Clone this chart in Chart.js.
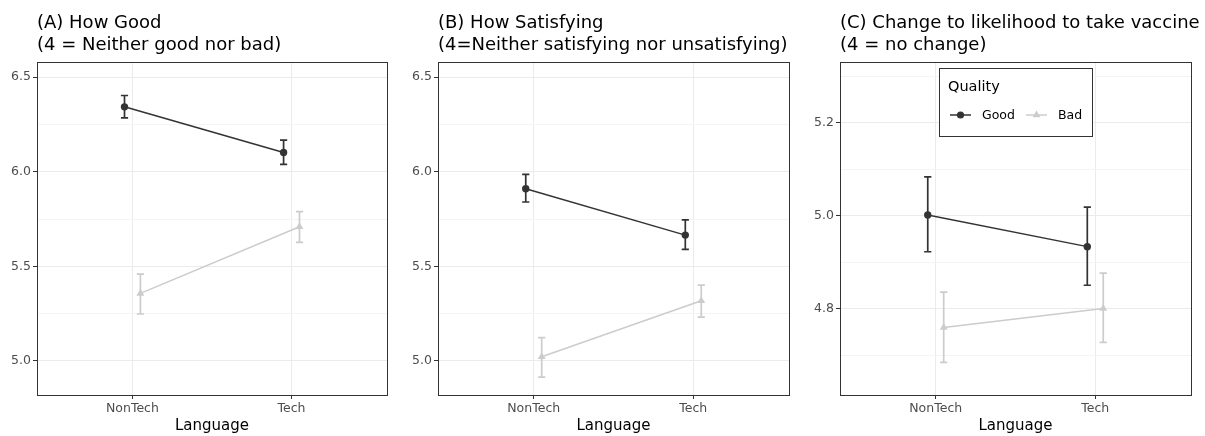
<!DOCTYPE html>
<html>
<head>
<meta charset="utf-8">
<script src="https://cdn.jsdelivr.net/npm/chart.js@4/dist/chart.umd.min.js"></script>
<style>
  html, body { margin: 0; padding: 0; background: #fff; }
  #wrap { position: relative; width: 1205px; height: 436px; overflow: hidden; }
  canvas { position: absolute; top: 0; }
</style>
</head>
<body>
<div id="wrap">
  <canvas id="panelA" width="400" height="436" style="left:0px"></canvas>
  <canvas id="panelB" width="400" height="436" style="left:400px"></canvas>
  <canvas id="panelC" width="405" height="436" style="left:800px"></canvas>
</div>
<script>
// categories on the x axis
const categories = ["NonTech", "Tech"];
const seriesNames = ["Good", "Bad"];

// (A) How Good
const aGoodMean = [6.343, 6.102];
const aGoodLow  = [6.285, 6.039];
const aGoodHigh = [6.403, 6.167];
const aBadMean  = [5.357, 5.709];
const aBadLow   = [5.248, 5.627];
const aBadHigh  = [5.459, 5.789];

// (B) How Satisfying
const bGoodMean = [5.910, 5.665];
const bGoodLow  = [5.840, 5.590];
const bGoodHigh = [5.986, 5.746];
const bBadMean  = [5.022, 5.318];
const bBadLow   = [4.914, 5.232];
const bBadHigh  = [5.123, 5.401];

// (C) Change to likelihood to take vaccine
const cGoodMean = [5.002, 4.934];
const cGoodLow  = [4.923, 4.851];
const cGoodHigh = [5.084, 5.019];
const cBadMean  = [4.760, 4.801];
const cBadLow   = [4.685, 4.728];
const cBadHigh  = [4.836, 4.877];

// y tick labels (major) and minor grid values
const abTicks = [5.0, 5.5, 6.0, 6.5];
const abMinor = [5.25, 5.75, 6.25];
const cTicks  = [4.8, 5.0, 5.2];
const cMinor  = [4.7, 4.9, 5.1, 5.3];

const DARK = "#333333";
const LIGHT = "#cccccc";
const DODGE = 0.05;

Chart.defaults.font.family = '"DejaVu Sans", sans-serif';

// error bars drawn from the dataset's low/high arrays
const errorBars = {
  id: "errorBars",
  beforeDatasetsDraw(chart) {
    const { ctx, scales: { x, y } } = chart;
    chart.data.datasets.forEach(ds => {
      ds.low.forEach((lo, i) => {
        const px = x.getPixelForValue(ds.data[i].x);
        const top = y.getPixelForValue(ds.high[i]);
        const bot = y.getPixelForValue(lo);
        ctx.save();
        ctx.strokeStyle = ds.borderColor;
        ctx.lineWidth = 1.7;
        ctx.beginPath();
        ctx.moveTo(px, top); ctx.lineTo(px, bot);
        ctx.moveTo(px - 3.6, top); ctx.lineTo(px + 3.6, top);
        ctx.moveTo(px - 3.6, bot); ctx.lineTo(px + 3.6, bot);
        ctx.stroke();
        ctx.restore();
      });
    });
  }
};

// panel border, title and (optional) legend
const frame = {
  id: "frame",
  afterDraw(chart, args, opts) {
    const { ctx, chartArea: a } = chart;
    ctx.save();
    ctx.strokeStyle = DARK;
    ctx.lineWidth = 1;
    ctx.strokeRect(Math.round(a.left) + 0.5, Math.round(a.top) + 0.5,
                   Math.round(a.right - a.left), Math.round(a.bottom - a.top));

    ctx.fillStyle = "#000";
    ctx.font = '18px "DejaVu Sans", sans-serif';
    ctx.textBaseline = "alphabetic";
    ctx.textAlign = "left";
    opts.title.forEach((line, i) => ctx.fillText(line, a.left, 28 + i * 22));

    if (opts.legend) {
      const lx = a.left + 99, ly = a.top + 6, lw = 153, lh = 68;
      ctx.fillStyle = "#fff";
      ctx.fillRect(lx, ly, lw, lh);
      ctx.strokeStyle = DARK;
      ctx.strokeRect(lx + 0.5, ly + 0.5, lw, lh);
      ctx.fillStyle = "#000";
      ctx.font = '14.5px "DejaVu Sans", sans-serif';
      ctx.fillText("Quality", lx + 9, ly + 23);
      ctx.font = '12.5px "DejaVu Sans", sans-serif';
      ctx.textBaseline = "middle";
      const iy = ly + 47;
      const items = [
        { name: seriesNames[0], color: DARK, x: lx + 11, style: "circle" },
        { name: seriesNames[1], color: LIGHT, x: lx + 87, style: "triangle" }
      ];
      items.forEach(it => {
        ctx.strokeStyle = it.color;
        ctx.fillStyle = it.color;
        ctx.lineWidth = 1.5;
        ctx.beginPath();
        ctx.moveTo(it.x, iy); ctx.lineTo(it.x + 21, iy);
        ctx.stroke();
        const cx = it.x + 10.5;
        ctx.beginPath();
        if (it.style === "circle") {
          ctx.arc(cx, iy, 3.6, 0, Math.PI * 2);
        } else {
          ctx.moveTo(cx, iy - 4.5);
          ctx.lineTo(cx + 3.9, iy + 2.3);
          ctx.lineTo(cx - 3.9, iy + 2.3);
          ctx.closePath();
        }
        ctx.fill();
        ctx.fillStyle = "#000";
        ctx.fillText(it.name, it.x + 32, iy + 1);
      });
    }
    ctx.restore();
  }
};

function makePanel(id, p) {
  const ds = (name, mean, low, high, color, style, radius, shift) => ({
    label: name,
    data: mean.map((v, i) => ({ x: i + 1 + shift, y: v })),
    low: low,
    high: high,
    borderColor: color,
    backgroundColor: color,
    pointBackgroundColor: color,
    pointBorderColor: color,
    pointStyle: style,
    pointRadius: radius,
    pointBorderWidth: 0,
    borderWidth: 1.5,
    tension: 0
  });

  return new Chart(document.getElementById(id), {
    type: "line",
    data: {
      datasets: [
        ds(seriesNames[0], p.goodMean, p.goodLow, p.goodHigh, DARK, "circle", 3.7, -DODGE),
        ds(seriesNames[1], p.badMean, p.badLow, p.badHigh, LIGHT, "triangle", 4.6, DODGE)
      ]
    },
    options: {
      responsive: false,
      animation: false,
      events: [],
      layout: { padding: { left: 0, top: 62, right: p.padRight, bottom: 0 } },
      plugins: {
        legend: { display: false },
        tooltip: { enabled: false },
        frame: { title: p.title, legend: p.legend }
      },
      scales: {
        x: {
          type: "linear",
          min: 0.4,
          max: 2.6,
          afterBuildTicks: s => { s.ticks = categories.map((c, i) => ({ value: i + 1 })); },
          afterFit: s => { s.height = 41; },
          ticks: {
            autoSkip: false,
            maxRotation: 0,
            padding: 2,
            color: "#4d4d4d",
            font: { size: 12.5 },
            callback: v => categories[Math.round(v) - 1]
          },
          grid: { color: "#ebebeb", tickColor: DARK, tickLength: 4, lineWidth: 1 },
          border: { display: false },
          title: { display: true, text: "Language", color: "#000", font: { size: 15 }, padding: { top: 0, bottom: 1 } }
        },
        y: {
          type: "linear",
          min: p.yMin,
          max: p.yMax,
          afterBuildTicks: s => {
            s.ticks = p.minor.map(v => ({ value: v, minor: true }))
              .concat(p.ticks.map(v => ({ value: v })))
              .sort((a, b) => a.value - b.value);
          },
          afterFit: s => { s.width = p.axisW; },
          ticks: {
            autoSkip: false,
            padding: 2,
            color: "#4d4d4d",
            font: { size: 12.5 },
            callback: (v, i, t) => t[i].minor ? "" : v.toFixed(1)
          },
          grid: {
            color: c => c.tick && c.tick.minor ? "#f4f4f4" : "#ebebeb",
            tickColor: c => c.tick && c.tick.minor ? "rgba(0,0,0,0)" : DARK,
            tickLength: 4,
            lineWidth: 1
          },
          border: { display: false }
        }
      }
    },
    plugins: [errorBars, frame]
  });
}

makePanel("panelA", {
  title: ["(A) How Good", "(4 = Neither good nor bad)"],
  goodMean: aGoodMean, goodLow: aGoodLow, goodHigh: aGoodHigh,
  badMean: aBadMean, badLow: aBadLow, badHigh: aBadHigh,
  ticks: abTicks, minor: abMinor, yMin: 4.82, yMax: 6.58,
  axisW: 37, padRight: 13, legend: false
});

makePanel("panelB", {
  title: ["(B) How Satisfying", "(4=Neither satisfying nor unsatisfying)"],
  goodMean: bGoodMean, goodLow: bGoodLow, goodHigh: bGoodHigh,
  badMean: bBadMean, badLow: bBadLow, badHigh: bBadHigh,
  ticks: abTicks, minor: abMinor, yMin: 4.82, yMax: 6.58,
  axisW: 38, padRight: 11, legend: false
});

makePanel("panelC", {
  title: ["(C) Change to likelihood to take vaccine", "(4 = no change)"],
  goodMean: cGoodMean, goodLow: cGoodLow, goodHigh: cGoodHigh,
  badMean: cBadMean, badLow: cBadLow, badHigh: cBadHigh,
  ticks: cTicks, minor: cMinor, yMin: 4.615, yMax: 5.331,
  axisW: 40, padRight: 14, legend: true
});
</script>
</body>
</html>
